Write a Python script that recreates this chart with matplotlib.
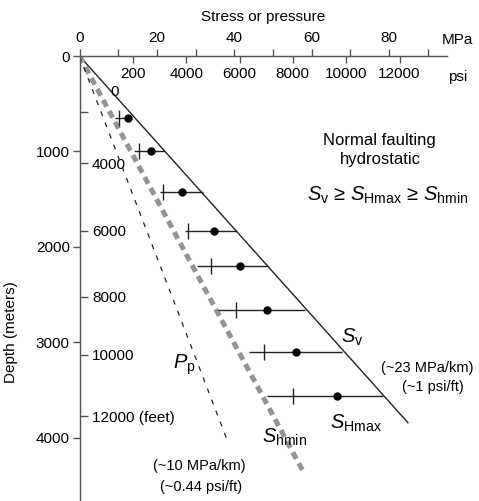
import numpy as np
import matplotlib
matplotlib.use("Agg")
import matplotlib.pyplot as plt

plt.rcParams['font.family'] = ['Liberation Sans', 'DejaVu Sans']
plt.rcParams['mathtext.fontset'] = 'custom'
plt.rcParams['mathtext.rm'] = 'Liberation Sans'
plt.rcParams['mathtext.it'] = 'Liberation Sans:italic'

# --- data (stress in MPa, depth in meters) ---
bar_depth = [652, 992, 1421, 1829, 2199, 2660, 3096, 3560]
bar_left = [9.2, 14.1, 20.8, 27.3, 30.3, 35.9, 43.9, 48.4]     # from Shmin
bar_right = [13.5, 22.1, 32.0, 40.6, 48.8, 58.3, 67.8, 78.5]   # to Sv
plus_x = [10.3, 15.3, 21.7, 28.0, 34.1, 40.4, 47.8, 55.2]
dot_x = [12.5, 18.5, 26.6, 34.8, 41.4, 48.4, 55.9, 66.6]       # SHmax

sv_x = [0, 84.9]
sv_depth = [0, 3840]
shmin_x = [0, 57.7]
shmin_depth = [0, 4342]
pp_x = [0, 38.0]
pp_depth = [0, 4003]

mpa_ticks = [0, 10, 20, 30, 40, 50, 60, 70, 80, 90]
mpa_labels = ['0', '', '20', '', '40', '', '60', '', '80', '']
psi_ticks = [2000, 4000, 6000, 8000, 10000, 12000]
psi_labels = ['200', '4000', '6000', '8000', '10000', '12000']
depth_ticks = [0, 1000, 2000, 3000, 4000]
feet_tick_depth = [583, 1125, 1829, 2523, 3131, 3770]
feet_labels = ['', '4000', '6000', '8000', '10000', '12000 (feet)']

PSI_PER_MPA = 145.038


def mpa_to_psi(x):
    return np.asarray(x) * PSI_PER_MPA


def psi_to_mpa(x):
    return np.asarray(x) / PSI_PER_MPA


fig = plt.figure(figsize=(4.79, 5.01), dpi=100)
ax = fig.add_axes([79.5 / 479, 0.0, (447 - 79.5) / 479, 1 - 56 / 501])
ax.set_xlim(0, 95)
ax.set_ylim(4660, 0)

spine_col = '#555555'
for s in ['right', 'bottom']:
    ax.spines[s].set_visible(False)
for s in ['top', 'left']:
    ax.spines[s].set_color(spine_col)
    ax.spines[s].set_linewidth(1.0)

# lines
ax.plot(sv_x, sv_depth, color='#222222', lw=1.0)
ax.plot(shmin_x, shmin_depth, color='#939393', lw=3.6, dashes=(1.5, 1.0))
ax.plot(pp_x, pp_depth, color='#222222', lw=0.9, dashes=(4.0, 5.5))

# horizontal stress bars
ax.hlines(bar_depth, bar_left, bar_right, color='#222222', lw=1.0)
ax.plot(plus_x, bar_depth, linestyle='none', marker='|', ms=12, mew=1.0, color='#222222')
ax.plot(dot_x, bar_depth, linestyle='none', marker='o', ms=5, color='black')

tick_fs = 11

# top MPa axis
ax.xaxis.tick_top()
ax.set_xticks(mpa_ticks, labels=mpa_labels)
ax.tick_params(axis='x', direction='out', length=5, width=1, color=spine_col,
               labelsize=tick_fs, pad=3)
ax.xaxis.set_label_position('top')
ax.set_xlabel('Stress or pressure', fontsize=11, labelpad=7)

# psi scale inside
sec_x = ax.secondary_xaxis('top', functions=(mpa_to_psi, psi_to_mpa))
sec_x.set_alignment('bottom')
sec_x.set_xticks(psi_ticks, labels=psi_labels)
sec_x.tick_params(axis='x', direction='out', length=5, width=1, color=spine_col,
                  labelsize=tick_fs, pad=3)
sec_x.spines['bottom'].set_color(spine_col)

# depth axis
ax.set_yticks(depth_ticks)
ax.tick_params(axis='y', direction='out', length=5, width=1, color=spine_col,
               labelsize=tick_fs, pad=2)
ax.set_ylabel('Depth (meters)', fontsize=11)
ax.yaxis.set_label_coords(-0.167, 0.38)

# feet scale inside
sec_y = ax.secondary_yaxis('left')
sec_y.set_alignment('right')
sec_y.set_yticks(feet_tick_depth, labels=feet_labels)
sec_y.tick_params(axis='y', direction='out', length=6, width=1, color=spine_col,
                  labelsize=tick_fs, pad=3)
sec_y.spines['right'].set_color(spine_col)

# unit labels
ax.text(97.8, -168, 'MPa', fontsize=tick_fs, ha='center', va='center', clip_on=False)
ax.text(97.8, 220, 'psi', fontsize=tick_fs, ha='center', va='center', clip_on=False)
ax.text(9.2, 377, '0', fontsize=tick_fs, ha='center', va='center')

# annotations
ax.text(77.6, 880, 'Normal faulting', fontsize=12, ha='center', va='center')
ax.text(77.9, 1089, 'hydrostatic', fontsize=12, ha='center', va='center')
ax.text(79.6, 1455, r'$S_{\rm v}$ ≥ $S_{\rm Hmax}$ ≥ $S_{\rm hmin}$',
        fontsize=14.5, ha='center', va='center')
ax.text(70.4, 2942, r'$S_{\rm v}$', fontsize=14.5, ha='center', va='center')
ax.text(71.4, 3843, r'$S_{\rm Hmax}$', fontsize=14.5, ha='center', va='center')
ax.text(53.1, 3990, r'$S_{\rm hmin}$', fontsize=14.5, ha='center', va='center')
ax.text(27.0, 3236, r'$P_{\rm p}$', fontsize=14.5, ha='center', va='center')
ax.text(90.0, 3267, '(~23 MPa/km)', fontsize=10.5, ha='center', va='center', clip_on=False)
ax.text(91.3, 3466, '(~1 psi/ft)', fontsize=10.5, ha='center', va='center', clip_on=False)
ax.text(31.1, 4293, '(~10 MPa/km)', fontsize=10.5, ha='center', va='center')
ax.text(31.4, 4513, '(~0.44 psi/ft)', fontsize=10.5, ha='center', va='center')

fig.savefig('out.png', dpi=100)
